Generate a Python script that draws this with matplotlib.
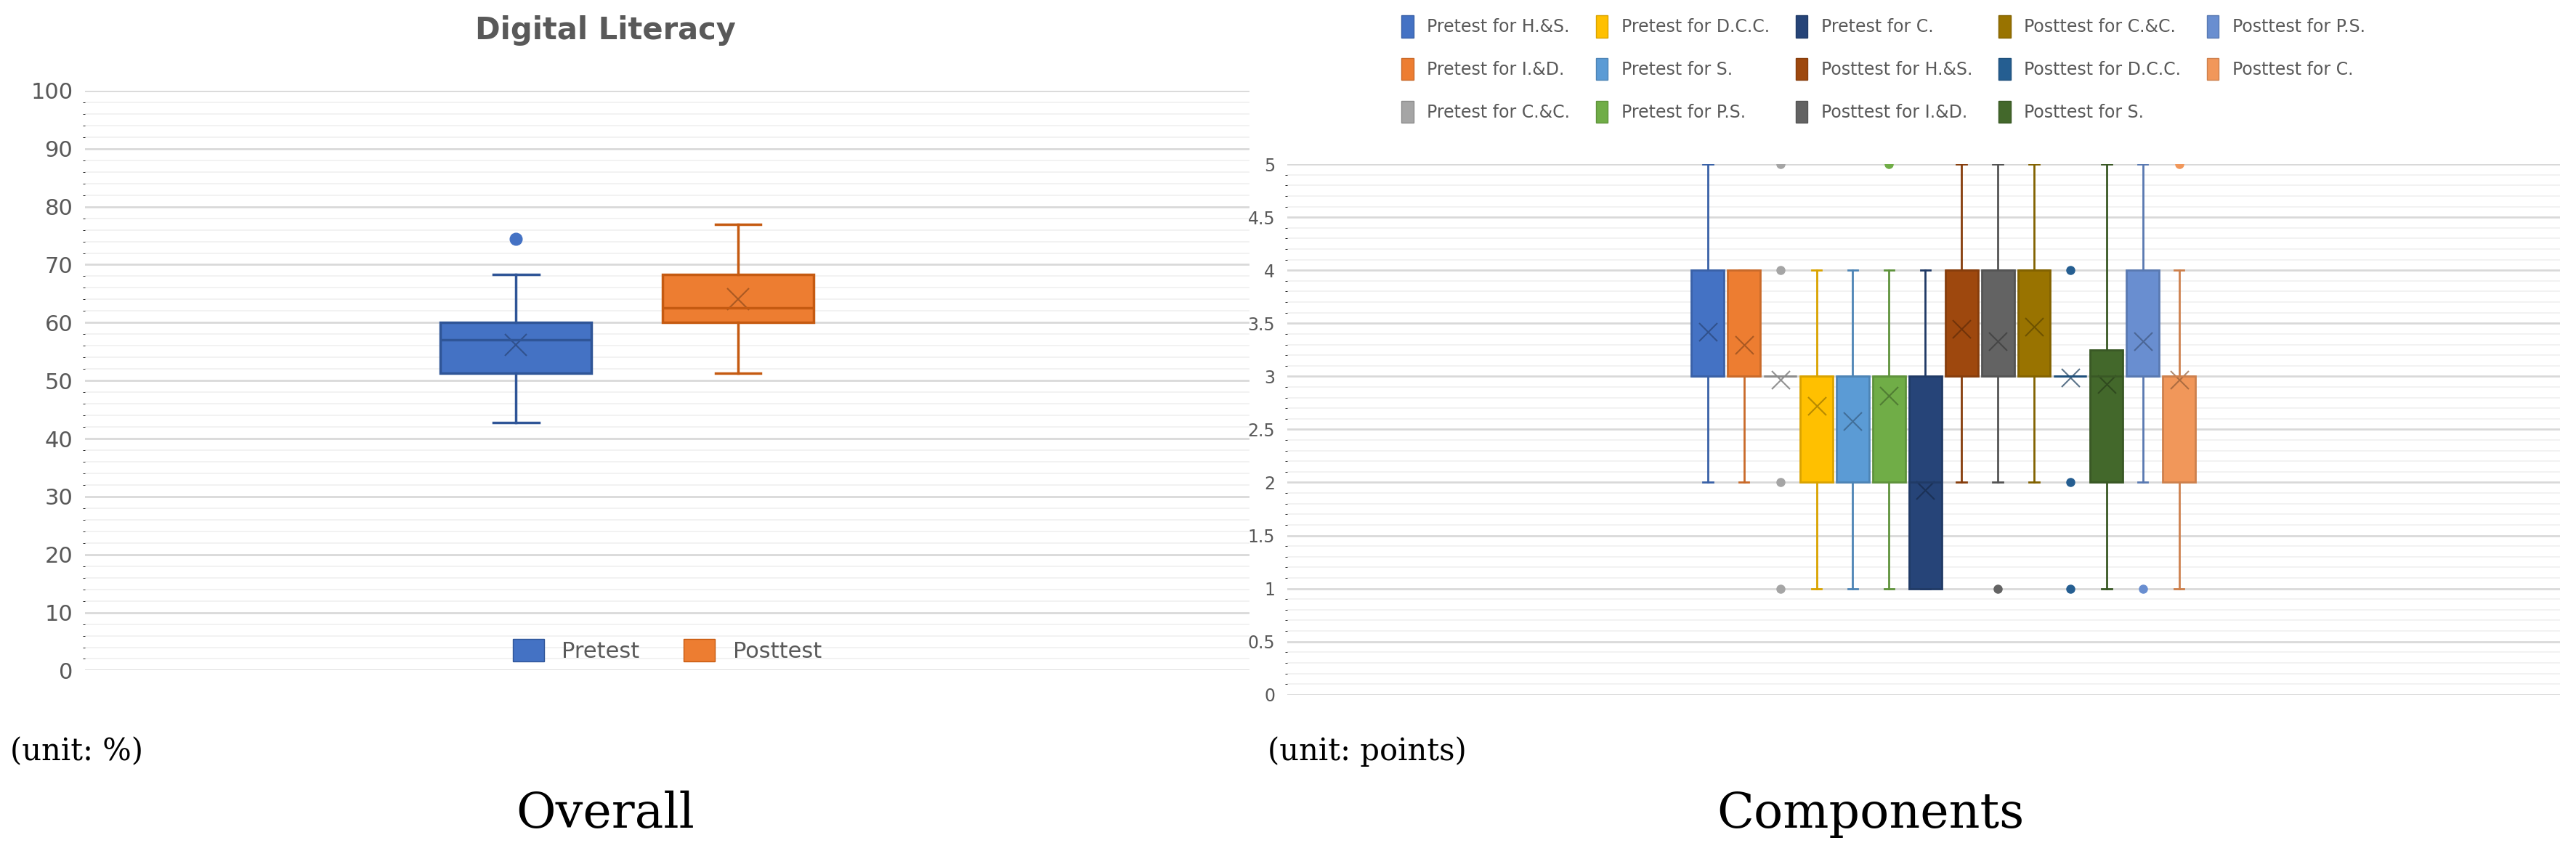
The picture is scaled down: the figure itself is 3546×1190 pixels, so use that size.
import matplotlib
matplotlib.use("Agg")
import matplotlib.pyplot as plt
from matplotlib.patches import Patch

# ---- overall data (unit %) ----
overall_names = ["Pretest", "Posttest"]
overall_colors = ["#4472C4", "#ED7D31"]
overall_edges = ["#2F5597", "#C55A11"]
overall_lo = [42.7, 51.3]
overall_q1 = [51.3, 60.0]
overall_med = [57.0, 62.6]
overall_q3 = [60.0, 68.3]
overall_hi = [68.3, 77.0]
overall_mean = [56.2, 64.0]
overall_fliers = [[74.5], []]

# ---- component data (points) ----
comp_names = ["Pretest for H.&S.", "Pretest for I.&D.", "Pretest for C.&C.", "Pretest for D.C.C.",
              "Pretest for S.", "Pretest for P.S.", "Pretest for C.", "Posttest for H.&S.",
              "Posttest for I.&D.", "Posttest for C.&C.", "Posttest for D.C.C.", "Posttest for S.",
              "Posttest for P.S.", "Posttest for C."]
comp_colors = ["#4472C4", "#ED7D31", "#A5A5A5", "#FFC000", "#5B9BD5", "#70AD47", "#264478",
               "#9E480E", "#636363", "#997300", "#255E91", "#43682B", "#698ED0", "#F1975A"]
comp_lo = [2, 2, 3, 1, 1, 1, 1, 2, 2, 2, 3, 1, 2, 1]
comp_q1 = [3, 3, 3, 2, 2, 2, 1, 3, 3, 3, 3, 2, 3, 2]
comp_med = [3, 3, 3, 3, 3, 3, 2, 4, 4, 4, 3, 3, 3, 3]
comp_q3 = [4, 4, 3, 3, 3, 3, 3, 4, 4, 4, 3, 3.25, 4, 3]
comp_hi = [5, 4, 3, 4, 4, 4, 4, 5, 5, 5, 3, 5, 5, 4]
comp_mean = [3.42, 3.30, 2.97, 2.72, 2.58, 2.82, 1.93, 3.45, 3.33, 3.47, 2.99, 2.93, 3.33, 2.97]
comp_fliers = [[], [], [1, 2, 4, 5], [], [], [5], [], [], [1], [], [1, 2, 4], [], [1], [5]]


def darker(c, f=0.75):
    r, g, b = matplotlib.colors.to_rgb(c)
    return (r * f, g * f, b * f)


def draw_boxes(ax, lo, q1, med, q3, hi, mean, fliers, colors, edges, width, lw, ms, xs):
    for i in range(len(lo)):
        st = [dict(whislo=lo[i], q1=q1[i], med=med[i], q3=q3[i], whishi=hi[i], mean=mean[i], fliers=fliers[i])]
        ec = edges[i]
        ax.bxp(st, positions=[i + 1], widths=width, patch_artist=True, showmeans=False, showfliers=True,
               boxprops=dict(facecolor=colors[i], edgecolor=ec, linewidth=lw),
               medianprops=dict(color=ec, linewidth=lw),
               whiskerprops=dict(color=ec, linewidth=lw),
               capprops=dict(color=ec, linewidth=lw),
               capwidths=width * 0.3,
               flierprops=dict(marker="o", markerfacecolor=colors[i], markeredgecolor=colors[i], markersize=ms))
        ax.plot(i + 1, mean[i], marker="x", color=darker(colors[i], 0.6), markersize=xs, alpha=0.7, mew=1.5)


def style(ax, major, minor, ymax, fs):
    ax.set_ylim(0, ymax)
    ax.set_yticks([major * k for k in range(int(round(ymax / major)) + 1)])
    ax.set_yticks([minor * k for k in range(int(round(ymax / minor)) + 1)], minor=True)
    ax.yaxis.grid(True, which="major", color="#D9D9D9", linewidth=2)
    ax.yaxis.grid(True, which="minor", color="#F0F0F0", linewidth=1.2)
    ax.set_axisbelow(True)
    for s in ax.spines.values():
        s.set_visible(False)
    ax.set_xticks([])
    ax.tick_params(axis="y", length=0, labelsize=fs, labelcolor="#595959", pad=12)


fig = plt.figure(figsize=(35.46, 11.90), dpi=100)

ax1 = fig.add_axes([0.033, 0.224, 0.452, 0.671])
draw_boxes(ax1, overall_lo, overall_q1, overall_med, overall_q3, overall_hi, overall_mean, overall_fliers,
           overall_colors, overall_edges, 0.68, 2.5, 12, 22)
ax1.set_xlim(-0.94, 4.3)
style(ax1, 10, 2, 100, 22)
ax1.legend(handles=[Patch(facecolor=c, edgecolor=e, label=n) for n, c, e in zip(overall_names, overall_colors, overall_edges)],
           loc="lower center", bbox_to_anchor=(0.5, -0.02), ncol=2, frameon=False, fontsize=22,
           labelcolor="#595959", handlelength=1.4, handleheight=1.2)
fig.text(0.235, 0.965, "Digital Literacy", ha="center", va="center", fontsize=30, fontweight="bold", color="#595959")

ax2 = fig.add_axes([0.4997, 0.196, 0.494, 0.614])
draw_boxes(ax2, comp_lo, comp_q1, comp_med, comp_q3, comp_hi, comp_mean, comp_fliers,
           comp_colors, [darker(c, 0.85) for c in comp_colors], 0.9, 2, 8, 18)
ax2.set_xlim(-10.6, 24.5)
style(ax2, 0.5, 0.1, 5, 17)
ax2.yaxis.set_major_formatter(matplotlib.ticker.FuncFormatter(lambda v, p: f"{v:g}"))
fig.legend(handles=[Patch(facecolor=c, edgecolor=darker(c, 0.85), label=n) for n, c in zip(comp_names, comp_colors)],
           loc="upper left", bbox_to_anchor=(0.538, 1.0), ncol=5, frameon=False, fontsize=17,
           labelcolor="#595959", handlelength=0.7, handleheight=1.6, columnspacing=1.5, labelspacing=1.2)

fig.text(0.004, 0.13, "(unit: %)", fontsize=30, family="serif", va="center")
fig.text(0.235, 0.058, "Overall", fontsize=48, family="serif", ha="center", va="center")
fig.text(0.492, 0.13, "(unit: points)", fontsize=30, family="serif", va="center")
fig.text(0.726, 0.058, "Components", fontsize=48, family="serif", ha="center", va="center")

fig.savefig("out.png", dpi=100)
